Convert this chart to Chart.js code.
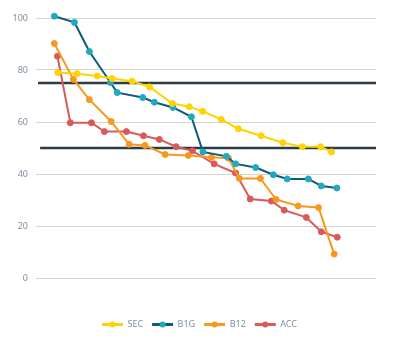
<!DOCTYPE html>
<html>
<head>
<meta charset="utf-8">
<script src="https://cdn.jsdelivr.net/npm/chart.js@4"></script>
<style>
  html, body { margin: 0; padding: 0; background: #fff; }
</style>
</head>
<body>
<canvas id="chart" width="399" height="342"></canvas>
<script>
// Valeurs (x = position relative 0-100)
const secX = [6.4, 12.1, 18.0, 22.4, 28.3, 33.4, 40.1, 45.1, 49.0, 54.5, 59.5, 66.2, 72.6, 78.3, 83.7, 86.9];
const secY = [79.0, 78.6, 77.7, 76.7, 75.7, 73.5, 67.1, 65.9, 64.1, 61.0, 57.4, 54.7, 52.0, 50.5, 50.5, 48.5];

const b1gX = [5.4, 11.3, 15.7, 21.9, 23.9, 31.4, 34.8, 40.3, 45.7, 49.1, 56.0, 58.7, 64.6, 69.8, 73.9, 80.1, 83.9, 88.5];
const b1gY = [100.7, 98.3, 87.1, 75.2, 71.3, 69.4, 67.6, 65.6, 62.0, 48.5, 46.8, 43.9, 42.5, 39.7, 38.1, 38.1, 35.4, 34.6];

const b12X = [5.4, 11.0, 15.7, 22.1, 27.4, 32.1, 38.0, 44.8, 51.6, 56.6, 59.8, 66.0, 70.6, 77.1, 83.1, 87.7];
const b12Y = [90.2, 76.4, 68.6, 60.2, 51.4, 51.0, 47.5, 47.1, 46.4, 46.1, 38.3, 38.3, 30.2, 27.7, 27.1, 9.2];

const accX = [6.3, 10.1, 16.3, 20.1, 26.6, 31.6, 36.3, 41.2, 46.0, 52.4, 58.7, 63.0, 69.2, 73.0, 79.5, 83.9, 88.6];
const accY = [85.3, 59.7, 59.7, 56.3, 56.3, 54.7, 53.3, 50.5, 48.9, 43.9, 40.4, 30.4, 29.6, 26.1, 23.3, 17.8, 15.7];

// Lignes de référence
const refHighX = [0.6, 100];
const refHighY = [75, 75];
const refLowX = [1.2, 100];
const refLowY = [50, 50];

const yTicks = [0, 20, 40, 60, 80, 100];

function pts(xs, ys) {
    return xs.map((x, i) => ({ x: x, y: ys[i] }));
}

function serie(label, xs, ys, line, dot) {
    return {
        label: label,
        data: pts(xs, ys),
        borderColor: line,
        backgroundColor: dot,
        pointBackgroundColor: dot,
        pointBorderColor: dot,
        pointRadius: 3,
        pointBorderWidth: 1,
        borderWidth: 2,
        showLine: true,
        clip: false,
        order: 1
    };
}

function refLine(xs, ys) {
    return {
        label: '',
        data: pts(xs, ys),
        borderColor: '#2f3b45',
        borderWidth: 2.5,
        pointRadius: 0,
        showLine: true,
        order: 5
    };
}

// Petits points sur les traits de la légende
const legendDots = {
    id: 'legendDots',
    afterDraw(chart) {
        const legend = chart.legend;
        if (!legend || !legend.legendHitBoxes) return;
        const ctx = chart.ctx;
        legend.legendItems.forEach((item, i) => {
            const box = legend.legendHitBoxes[i];
            const ds = chart.data.datasets[item.datasetIndex];
            ctx.save();
            ctx.fillStyle = ds.pointBackgroundColor;
            ctx.beginPath();
            ctx.arc(box.left + 10.5, box.top + box.height / 2, 3, 0, Math.PI * 2);
            ctx.fill();
            ctx.restore();
        });
    }
};

const font = { family: "'Noto Sans', sans-serif", size: 9 };

new Chart(document.getElementById('chart'), {
    type: 'scatter',
    data: {
        datasets: [
            serie('SEC', secX, secY, '#ffd200', '#ffd200'),
            serie('B1G', b1gX, b1gY, '#0d5c7c', '#20a8bf'),
            serie('B12', b12X, b12Y, '#f7981f', '#f7981f'),
            serie('ACC', accX, accY, '#d95a5a', '#d95a5a'),
            refLine(refHighX, refHighY),
            refLine(refLowX, refLowY)
        ]
    },
    options: {
        responsive: false,
        animation: false,
        layout: { padding: { top: 18, right: 0, bottom: 3, left: 0 } },
        scales: {
            x: {
                type: 'linear',
                min: 0,
                max: 100,
                ticks: { display: false },
                grid: { display: false },
                border: { display: false },
                afterFit(scale) { scale.height = 33; }
            },
            y: {
                min: 0,
                max: 100,
                afterBuildTicks(scale) { scale.ticks = yTicks.map(v => ({ value: v })); },
                ticks: { color: '#7f8ea0', font: font, padding: 8 },
                grid: { color: '#d8d4c4', drawTicks: false },
                border: { display: false },
                afterFit(scale) { scale.width = 36; }
            },
            // axe vide à droite pour garder la marge
            yRight: {
                position: 'right',
                min: 0,
                max: 100,
                ticks: { display: false },
                grid: { display: false },
                border: { display: false },
                afterFit(scale) { scale.width = 23; }
            }
        },
        plugins: {
            tooltip: { enabled: false },
            legend: {
                position: 'bottom',
                labels: {
                    color: '#7f8ea0',
                    font: font,
                    boxWidth: 21,
                    boxHeight: 3,
                    padding: 9,
                    filter: item => item.text !== '',
                    generateLabels(chart) {
                        const items = Chart.defaults.plugins.legend.labels.generateLabels(chart);
                        items.forEach(it => {
                            const ds = chart.data.datasets[it.datasetIndex];
                            it.fillStyle = ds.borderColor;
                            it.strokeStyle = ds.borderColor;
                            it.lineWidth = 0;
                        });
                        return items;
                    }
                }
            }
        }
    },
    plugins: [legendDots]
});
</script>
</body>
</html>
